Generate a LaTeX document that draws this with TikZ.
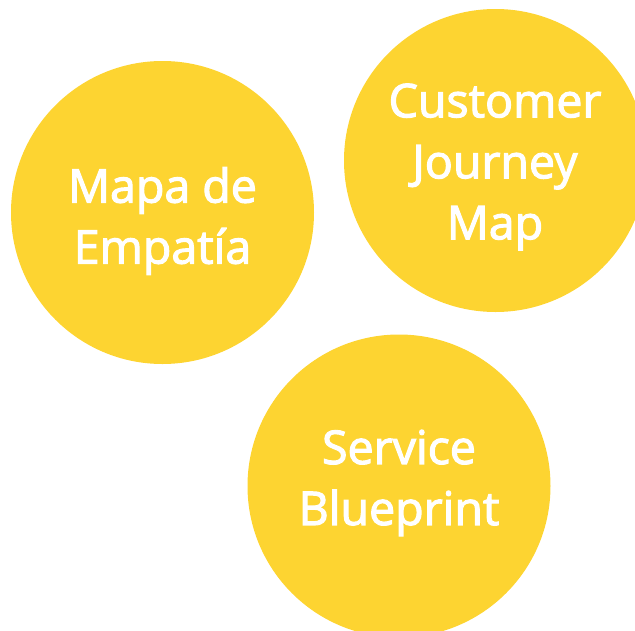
\documentclass[tikz,border=0pt]{standalone}
\usepackage{fontspec}
\setmainfont{Open Sans}[FakeBold=2.4]
\definecolor{sun}{HTML}{FDD431}
\begin{document}
\begin{tikzpicture}[x=1pt,y=-1pt,
  bubble/.style={circle,fill=sun,draw=none,minimum size=303pt,inner sep=0pt},
  label/.style={text=white,align=center,font=\fontsize{46.5}{61}\selectfont}]
  \useasboundingbox (0,0) rectangle (635,630);
  \clip (0,0) rectangle (635,630);
  \node[bubble] (empatia) at (162.5,212.5) {};
  \node[bubble] (journey) at (495.5,160.5) {};
  \node[bubble] (blueprint) at (399,486) {};
  \node[label] (tEmpatia) at (162.5,221) {Mapa de\\Empatía};
  \node[label] (tJourney) at (495,167) {Customer\\Journey\\Map};
  \node[label] (tBlueprint) at (399,483) {Service\\Blueprint};
\end{tikzpicture}
\end{document}
